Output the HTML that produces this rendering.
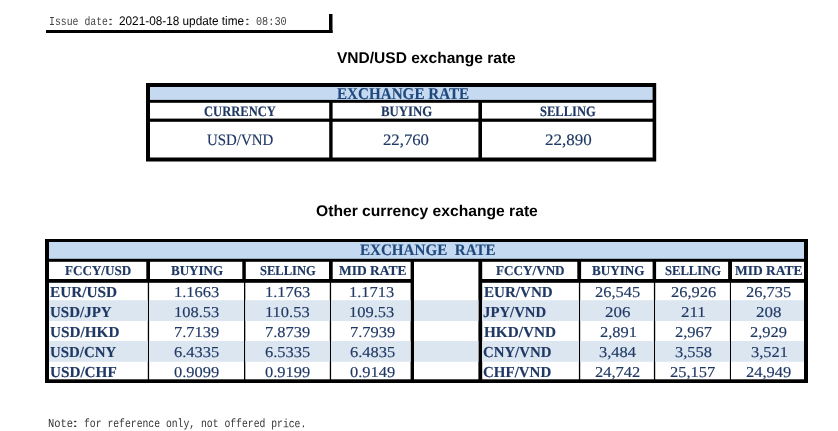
<!DOCTYPE html>
<html lang="en"><head><meta charset="utf-8"><title>Exchange rate</title>
<style>
html,body{margin:0;padding:0;background:#fff}
body{width:838px;height:431px;position:relative;overflow:hidden;font-family:"Liberation Serif",serif}
.t{position:absolute;white-space:pre;line-height:20px;transform-origin:0 0}
</style></head><body>
<svg width="838" height="431" viewBox="0 0 838 431" style="position:absolute;left:0;top:0" fill="#000">
<rect x="46" y="30" width="286.5" height="3"/>
<rect x="329" y="14" width="3.5" height="19"/>
<rect x="146" y="83" width="510.2" height="78.5"/>
<rect x="150" y="87" width="502.6" height="12.9" fill="#c5d9f1"/>
<rect x="150" y="102.8" width="179.2" height="15.8" fill="#fff"/>
<rect x="150" y="121.8" width="179.2" height="35.7" fill="#fff"/>
<rect x="332.6" y="102.8" width="145.8" height="15.8" fill="#fff"/>
<rect x="332.6" y="121.8" width="145.8" height="35.7" fill="#fff"/>
<rect x="482" y="102.8" width="170.6" height="15.8" fill="#fff"/>
<rect x="482" y="121.8" width="170.6" height="35.7" fill="#fff"/>
<rect x="45" y="239" width="763" height="144"/>
<rect x="49" y="242" width="755" height="16.8" fill="#c5d9f1"/>
<rect x="414" y="261.8" width="64.4" height="117.5" fill="#fff"/>
<rect x="49" y="261.8" width="97.3" height="17.2" fill="#fff"/>
<rect x="150" y="261.8" width="92.3" height="17.2" fill="#fff"/>
<rect x="245.8" y="261.8" width="83.2" height="17.2" fill="#fff"/>
<rect x="332.7" y="261.8" width="77.9" height="17.2" fill="#fff"/>
<rect x="482.2" y="261.8" width="95.1" height="17.2" fill="#fff"/>
<rect x="581.1" y="261.8" width="71.5" height="17.2" fill="#fff"/>
<rect x="656.1" y="261.8" width="72.0" height="17.2" fill="#fff"/>
<rect x="732" y="261.8" width="72" height="17.2" fill="#fff"/>
<rect x="49" y="282.8" width="98.8" height="96.5" fill="#fff"/>
<rect x="149.1" y="282.8" width="94.9" height="96.5" fill="#fff"/>
<rect x="245.3" y="282.8" width="84.5" height="96.5" fill="#fff"/>
<rect x="331.1" y="282.8" width="79.5" height="96.5" fill="#fff"/>
<rect x="482.2" y="282.8" width="96.7" height="96.5" fill="#fff"/>
<rect x="580.2" y="282.8" width="73.7" height="96.5" fill="#fff"/>
<rect x="655.2" y="282.8" width="74.7" height="96.5" fill="#fff"/>
<rect x="731.0" y="282.8" width="73.0" height="96.5" fill="#fff"/>
<rect x="49" y="300.2" width="98.8" height="20.8" fill="#dce6f1"/>
<rect x="149.1" y="300.2" width="94.9" height="20.8" fill="#dce6f1"/>
<rect x="245.3" y="300.2" width="84.5" height="20.8" fill="#dce6f1"/>
<rect x="331.1" y="300.2" width="79.5" height="20.8" fill="#dce6f1"/>
<rect x="482.2" y="300.2" width="96.7" height="20.8" fill="#dce6f1"/>
<rect x="580.2" y="300.2" width="73.7" height="20.8" fill="#dce6f1"/>
<rect x="655.2" y="300.2" width="74.7" height="20.8" fill="#dce6f1"/>
<rect x="731.0" y="300.2" width="73.0" height="20.8" fill="#dce6f1"/>
<rect x="414" y="300.2" width="64.4" height="20.8" fill="#dce6f1"/>
<rect x="49" y="341.0" width="98.8" height="20.8" fill="#dce6f1"/>
<rect x="149.1" y="341.0" width="94.9" height="20.8" fill="#dce6f1"/>
<rect x="245.3" y="341.0" width="84.5" height="20.8" fill="#dce6f1"/>
<rect x="331.1" y="341.0" width="79.5" height="20.8" fill="#dce6f1"/>
<rect x="482.2" y="341.0" width="96.7" height="20.8" fill="#dce6f1"/>
<rect x="580.2" y="341.0" width="73.7" height="20.8" fill="#dce6f1"/>
<rect x="655.2" y="341.0" width="74.7" height="20.8" fill="#dce6f1"/>
<rect x="731.0" y="341.0" width="73.0" height="20.8" fill="#dce6f1"/>
<rect x="414" y="341.0" width="64.4" height="20.8" fill="#dce6f1"/>
</svg>
<div class="t" style="left:337.44px;top:47.50px;font-size:15.5px;color:#000;transform:scaleX(1.0024) rotate(0.03deg);font-weight:700;font-family:'Liberation Sans',sans-serif">VND/USD exchange rate</div>
<div class="t" style="left:316.30px;top:200.80px;font-size:15.5px;color:#000;transform:scaleX(1.0097) rotate(0.03deg);font-weight:700;font-family:'Liberation Sans',sans-serif">Other currency exchange rate</div>
<div class="t" style="left:48.94px;top:12.00px;font-size:12px;color:#444;transform:scaleX(0.8195) rotate(0.03deg);font-family:'Liberation Mono','Noto Sans CJK SC',monospace">Issue date</div>
<div class="t" style="left:105.56px;top:13.39px;font-size:10px;color:#444;transform:scaleX(1.8170) rotate(0.03deg);font-family:'Liberation Mono','Noto Sans CJK SC',monospace">：</div>
<div class="t" style="left:119.10px;top:11.00px;font-size:12.5px;color:#000;transform:scaleX(0.9425) rotate(0.03deg);font-family:'Liberation Sans',sans-serif">2021-08-18 update time</div>
<div class="t" style="left:243.10px;top:13.39px;font-size:10px;color:#444;transform:scaleX(1.7413) rotate(0.03deg);font-family:'Liberation Mono','Noto Sans CJK SC',monospace">：</div>
<div class="t" style="left:256.25px;top:12.00px;font-size:12px;color:#444;transform:scaleX(0.8513) rotate(0.03deg);font-family:'Liberation Mono','Noto Sans CJK SC',monospace">08:30</div>
<div class="t" style="left:48.33px;top:413.80px;font-size:12px;color:#333;transform:scaleX(0.8719) rotate(0.03deg);font-family:'Liberation Mono','Noto Sans CJK SC',monospace">Note</div>
<div class="t" style="left:71.11px;top:415.20px;font-size:10px;color:#333;transform:scaleX(1.6746) rotate(0.03deg);font-family:'Liberation Mono','Noto Sans CJK SC',monospace">：</div>
<div class="t" style="left:84.07px;top:413.80px;font-size:12px;color:#333;transform:scaleX(0.8123) rotate(0.03deg);font-family:'Liberation Mono','Noto Sans CJK SC',monospace">for reference only, not offered price.</div>
<div class="t" style="left:336.66px;top:84.00px;font-size:16.5px;color:#1f497d;transform:scaleX(0.9176) rotate(0.03deg);font-weight:700;-webkit-text-stroke:0.15px">EXCHANGE RATE</div>
<div class="t" style="left:204.25px;top:101.00px;font-size:14.5px;color:#1f3864;transform:scaleX(0.8662) rotate(0.03deg);font-weight:700;-webkit-text-stroke:0.15px">CURRENCY</div>
<div class="t" style="left:381.11px;top:101.00px;font-size:14.5px;color:#1f3864;transform:scaleX(0.8844) rotate(0.03deg);font-weight:700;-webkit-text-stroke:0.15px">BUYING</div>
<div class="t" style="left:540.24px;top:101.00px;font-size:14.5px;color:#1f3864;transform:scaleX(0.8665) rotate(0.03deg);font-weight:700;-webkit-text-stroke:0.15px">SELLING</div>
<div class="t" style="left:206.88px;top:130.40px;font-size:16px;color:#1f3864;transform:scaleX(0.9323) rotate(0.03deg);-webkit-text-stroke:0.15px">USD/VND</div>
<div class="t" style="left:383.29px;top:130.40px;font-size:16px;color:#1f3864;transform:scaleX(1.0449) rotate(0.03deg);-webkit-text-stroke:0.15px">22,760</div>
<div class="t" style="left:545.18px;top:130.40px;font-size:16px;color:#1f3864;transform:scaleX(1.0613) rotate(0.03deg);-webkit-text-stroke:0.15px">22,890</div>
<div class="t" style="left:359.85px;top:239.80px;font-size:16px;color:#1f497d;transform:scaleX(0.9437) rotate(0.03deg);font-weight:700;-webkit-text-stroke:0.15px">EXCHANGE  RATE</div>
<div class="t" style="left:65.07px;top:261.00px;font-size:13.6px;color:#1f3864;transform:scaleX(0.9633) rotate(0.03deg);font-weight:700;-webkit-text-stroke:0.15px">FCCY/USD</div>
<div class="t" style="left:171.18px;top:261.00px;font-size:13.6px;color:#1f3864;transform:scaleX(0.9588) rotate(0.03deg);font-weight:700;-webkit-text-stroke:0.15px">BUYING</div>
<div class="t" style="left:260.35px;top:261.00px;font-size:13.6px;color:#1f3864;transform:scaleX(0.9232) rotate(0.03deg);font-weight:700;-webkit-text-stroke:0.15px">SELLING</div>
<div class="t" style="left:338.76px;top:261.00px;font-size:13.6px;color:#1f3864;transform:scaleX(0.9898) rotate(0.03deg);font-weight:700;-webkit-text-stroke:0.15px">MID RATE</div>
<div class="t" style="left:496.17px;top:261.00px;font-size:13.6px;color:#1f3864;transform:scaleX(0.9666) rotate(0.03deg);font-weight:700;-webkit-text-stroke:0.15px">FCCY/VND</div>
<div class="t" style="left:591.68px;top:261.00px;font-size:13.6px;color:#1f3864;transform:scaleX(0.9663) rotate(0.03deg);font-weight:700;-webkit-text-stroke:0.15px">BUYING</div>
<div class="t" style="left:665.04px;top:261.00px;font-size:13.6px;color:#1f3864;transform:scaleX(0.9283) rotate(0.03deg);font-weight:700;-webkit-text-stroke:0.15px">SELLING</div>
<div class="t" style="left:735.36px;top:261.00px;font-size:13.6px;color:#1f3864;transform:scaleX(0.9898) rotate(0.03deg);font-weight:700;-webkit-text-stroke:0.15px">MID RATE</div>
<div class="t" style="left:50.33px;top:281.80px;font-size:15.3px;color:#1f3864;transform:scaleX(1.0005) rotate(0.03deg);font-weight:700;-webkit-text-stroke:0.15px">EUR/USD</div>
<div class="t" style="left:50.27px;top:301.80px;font-size:15.3px;color:#1f3864;transform:scaleX(0.9797) rotate(0.03deg);font-weight:700;-webkit-text-stroke:0.15px">USD/JPY</div>
<div class="t" style="left:50.26px;top:321.90px;font-size:15.3px;color:#1f3864;transform:scaleX(0.9963) rotate(0.03deg);font-weight:700;-webkit-text-stroke:0.15px">USD/HKD</div>
<div class="t" style="left:50.28px;top:341.90px;font-size:15.3px;color:#1f3864;transform:scaleX(0.9730) rotate(0.03deg);font-weight:700;-webkit-text-stroke:0.15px">USD/CNY</div>
<div class="t" style="left:50.26px;top:361.70px;font-size:15.3px;color:#1f3864;transform:scaleX(0.9934) rotate(0.03deg);font-weight:700;-webkit-text-stroke:0.15px">USD/CHF</div>
<div class="t" style="left:483.54px;top:281.80px;font-size:15.3px;color:#1f3864;transform:scaleX(0.9865) rotate(0.03deg);font-weight:700;-webkit-text-stroke:0.15px">EUR/VND</div>
<div class="t" style="left:483.45px;top:301.80px;font-size:15.3px;color:#1f3864;transform:scaleX(0.9663) rotate(0.03deg);font-weight:700;-webkit-text-stroke:0.15px">JPY/VND</div>
<div class="t" style="left:483.53px;top:321.90px;font-size:15.3px;color:#1f3864;transform:scaleX(0.9970) rotate(0.03deg);font-weight:700;-webkit-text-stroke:0.15px">HKD/VND</div>
<div class="t" style="left:483.30px;top:341.90px;font-size:15.3px;color:#1f3864;transform:scaleX(0.9693) rotate(0.03deg);font-weight:700;-webkit-text-stroke:0.15px">CNY/VND</div>
<div class="t" style="left:483.30px;top:361.70px;font-size:15.3px;color:#1f3864;transform:scaleX(0.9798) rotate(0.03deg);font-weight:700;-webkit-text-stroke:0.15px">CHF/VND</div>
<div class="t" style="left:173.71px;top:281.80px;font-size:15.1px;color:#1f3864;transform:scaleX(1.0900) rotate(0.03deg);-webkit-text-stroke:0.15px">1.1663</div>
<div class="t" style="left:173.71px;top:301.80px;font-size:15.1px;color:#1f3864;transform:scaleX(1.0900) rotate(0.03deg);-webkit-text-stroke:0.15px">108.53</div>
<div class="t" style="left:174.08px;top:321.90px;font-size:15.1px;color:#1f3864;transform:scaleX(1.0900) rotate(0.03deg);-webkit-text-stroke:0.15px">7.7139</div>
<div class="t" style="left:174.26px;top:341.90px;font-size:15.1px;color:#1f3864;transform:scaleX(1.0900) rotate(0.03deg);-webkit-text-stroke:0.15px">6.4335</div>
<div class="t" style="left:174.29px;top:361.70px;font-size:15.1px;color:#1f3864;transform:scaleX(1.0900) rotate(0.03deg);-webkit-text-stroke:0.15px">0.9099</div>
<div class="t" style="left:264.91px;top:281.80px;font-size:15.1px;color:#1f3864;transform:scaleX(1.0900) rotate(0.03deg);-webkit-text-stroke:0.15px">1.1763</div>
<div class="t" style="left:265.19px;top:301.80px;font-size:15.1px;color:#1f3864;transform:scaleX(1.0900) rotate(0.03deg);-webkit-text-stroke:0.15px">110.53</div>
<div class="t" style="left:265.28px;top:321.90px;font-size:15.1px;color:#1f3864;transform:scaleX(1.0900) rotate(0.03deg);-webkit-text-stroke:0.15px">7.8739</div>
<div class="t" style="left:265.46px;top:341.90px;font-size:15.1px;color:#1f3864;transform:scaleX(1.0900) rotate(0.03deg);-webkit-text-stroke:0.15px">6.5335</div>
<div class="t" style="left:265.49px;top:361.70px;font-size:15.1px;color:#1f3864;transform:scaleX(1.0900) rotate(0.03deg);-webkit-text-stroke:0.15px">0.9199</div>
<div class="t" style="left:349.41px;top:281.80px;font-size:15.1px;color:#1f3864;transform:scaleX(1.0900) rotate(0.03deg);-webkit-text-stroke:0.15px">1.1713</div>
<div class="t" style="left:349.41px;top:301.80px;font-size:15.1px;color:#1f3864;transform:scaleX(1.0900) rotate(0.03deg);-webkit-text-stroke:0.15px">109.53</div>
<div class="t" style="left:349.78px;top:321.90px;font-size:15.1px;color:#1f3864;transform:scaleX(1.0900) rotate(0.03deg);-webkit-text-stroke:0.15px">7.7939</div>
<div class="t" style="left:349.96px;top:341.90px;font-size:15.1px;color:#1f3864;transform:scaleX(1.0900) rotate(0.03deg);-webkit-text-stroke:0.15px">6.4835</div>
<div class="t" style="left:349.99px;top:361.70px;font-size:15.1px;color:#1f3864;transform:scaleX(1.0900) rotate(0.03deg);-webkit-text-stroke:0.15px">0.9149</div>
<div class="t" style="left:594.98px;top:281.80px;font-size:15.1px;color:#1f3864;transform:scaleX(1.0900) rotate(0.03deg);-webkit-text-stroke:0.15px">26,545</div>
<div class="t" style="left:604.92px;top:301.80px;font-size:15.1px;color:#1f3864;transform:scaleX(1.1200) rotate(0.03deg);-webkit-text-stroke:0.15px">206</div>
<div class="t" style="left:599.54px;top:321.90px;font-size:15.1px;color:#1f3864;transform:scaleX(1.0900) rotate(0.03deg);-webkit-text-stroke:0.15px">2,891</div>
<div class="t" style="left:598.87px;top:341.90px;font-size:15.1px;color:#1f3864;transform:scaleX(1.0900) rotate(0.03deg);-webkit-text-stroke:0.15px">3,484</div>
<div class="t" style="left:595.07px;top:361.70px;font-size:15.1px;color:#1f3864;transform:scaleX(1.0900) rotate(0.03deg);-webkit-text-stroke:0.15px">24,742</div>
<div class="t" style="left:670.51px;top:281.80px;font-size:15.1px;color:#1f3864;transform:scaleX(1.0900) rotate(0.03deg);-webkit-text-stroke:0.15px">26,926</div>
<div class="t" style="left:681.36px;top:301.80px;font-size:15.1px;color:#1f3864;transform:scaleX(1.1200) rotate(0.03deg);-webkit-text-stroke:0.15px">211</div>
<div class="t" style="left:674.54px;top:321.90px;font-size:15.1px;color:#1f3864;transform:scaleX(1.0900) rotate(0.03deg);-webkit-text-stroke:0.15px">2,967</div>
<div class="t" style="left:674.58px;top:341.90px;font-size:15.1px;color:#1f3864;transform:scaleX(1.0900) rotate(0.03deg);-webkit-text-stroke:0.15px">3,558</div>
<div class="t" style="left:670.45px;top:361.70px;font-size:15.1px;color:#1f3864;transform:scaleX(1.0900) rotate(0.03deg);-webkit-text-stroke:0.15px">25,157</div>
<div class="t" style="left:746.38px;top:281.80px;font-size:15.1px;color:#1f3864;transform:scaleX(1.0900) rotate(0.03deg);-webkit-text-stroke:0.15px">26,735</div>
<div class="t" style="left:756.37px;top:301.80px;font-size:15.1px;color:#1f3864;transform:scaleX(1.1200) rotate(0.03deg);-webkit-text-stroke:0.15px">208</div>
<div class="t" style="left:750.46px;top:321.90px;font-size:15.1px;color:#1f3864;transform:scaleX(1.0900) rotate(0.03deg);-webkit-text-stroke:0.15px">2,929</div>
<div class="t" style="left:750.88px;top:341.90px;font-size:15.1px;color:#1f3864;transform:scaleX(1.0900) rotate(0.03deg);-webkit-text-stroke:0.15px">3,521</div>
<div class="t" style="left:746.38px;top:361.70px;font-size:15.1px;color:#1f3864;transform:scaleX(1.0900) rotate(0.03deg);-webkit-text-stroke:0.15px">24,949</div>
</body></html>
